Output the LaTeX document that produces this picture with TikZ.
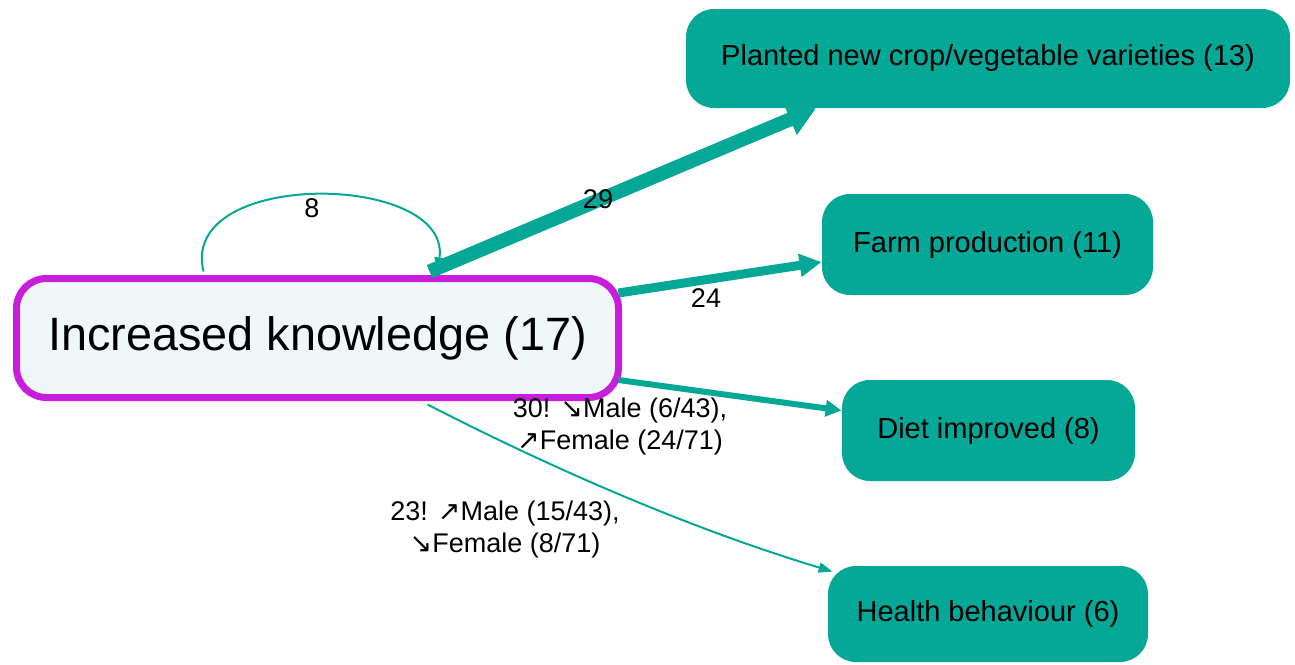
\documentclass[tikz,border=0pt]{standalone}
\usepackage{fontspec}
\setmainfont{Liberation Sans}
\newfontfamily\arrowfont{DejaVu Sans}
\usetikzlibrary{arrows.meta}
\definecolor{teal2}{RGB}{5,167,150}
\definecolor{mag}{RGB}{200,30,220}
\definecolor{pale}{RGB}{239,247,249}
\newcommand{\arrSE}{{\arrowfont\char"2198}}
\newcommand{\arrNE}{{\arrowfont\char"2197}}
\tikzset{
  tnode/.style={rectangle, rounded corners=14pt, fill=teal2, draw=none, text=black, font=\fontsize{14.5}{16}\selectfont, inner sep=0pt},
  mainnode/.style={rectangle, rounded corners=15pt, fill=pale, draw=mag, line width=3.5pt, font=\fontsize{23.4}{26}\selectfont, inner sep=0pt},
  elabel/.style={font=\fontsize{13.5}{16}\selectfont, text=black, align=center, inner sep=0pt},
  edge/.style={draw=teal2, line cap=butt},
}
\begin{document}
\begin{tikzpicture}[x=0.5pt,y=-0.5pt]
\useasboundingbox (0,0) rectangle (1295,664);
\node[mainnode, minimum width=301pt, minimum height=59.5pt] (main) at (317.5,338) {Increased knowledge (17)};
\node[tnode, minimum width=302pt, minimum height=49.5pt] (plant) at (988,58.5) {Planted new crop/vegetable varieties (13)};
\node[tnode, minimum width=165.5pt, minimum height=50.5pt] (farm) at (987.5,244.5) {Farm production (11)};
\node[tnode, minimum width=146.5pt, minimum height=50.5pt] (diet) at (988.5,430.5) {Diet improved (8)};
\node[tnode, minimum width=160pt, minimum height=48pt] (health) at (988,614) {Health behaviour (6)};
% edges
\coordinate (p0) at ([xshift=56pt,yshift=1.75pt]main.north);
\coordinate (p1) at ([xshift=-86pt]plant.south);
\draw[edge, line width=7pt, -{Triangle[length=14pt,width=16pt]}] (p0) -- (p1);
\coordinate (f0) at ([yshift=22.5pt,xshift=-1.75pt]main.east);
\coordinate (f1) at ([yshift=-8.75pt]farm.west);
\draw[edge, line width=4.5pt, -{Triangle[length=11pt,width=11pt]}] (f0) -- (f1);
\coordinate (d0) at ([yshift=-21pt,xshift=-1.75pt]main.east);
\coordinate (d1) at ([yshift=10pt]diet.west);
\draw[edge, line width=3pt, -{Triangle[length=8pt,width=8pt]}] (d0) -- (d1);
\coordinate (h0) at ([xshift=55pt,yshift=-1.75pt]main.south);
\coordinate (h1) at ([xshift=2.5pt,yshift=-3pt]health.north west);
\draw[edge, line width=1pt, -{Triangle[length=7pt,width=5pt]}] (h0) .. controls (563,474) and (698,531) .. (h1);
\coordinate (l0) at ([xshift=-57pt,yshift=1.75pt]main.north);
\coordinate (l1) at ([xshift=60pt,yshift=1.75pt]main.north);
\draw[edge, line width=1pt, -{Triangle[length=7pt,width=5pt]}] (l0) .. controls (178,168) and (452,172) .. (l1);
% labels
\node[elabel] (lab8) at (312,208) {8};
\node[elabel] (lab29) at (598,199) {29};
\node[elabel] (lab24) at (706,298) {24};
\node[elabel] (lab30) at (620,427) {30! \arrSE Male (6/43),\\ \arrNE Female (24/71)};
\node[elabel] (lab23) at (505,530) {23! \arrNE Male (15/43),\\ \arrSE Female (8/71)};
\end{tikzpicture}
\end{document}
